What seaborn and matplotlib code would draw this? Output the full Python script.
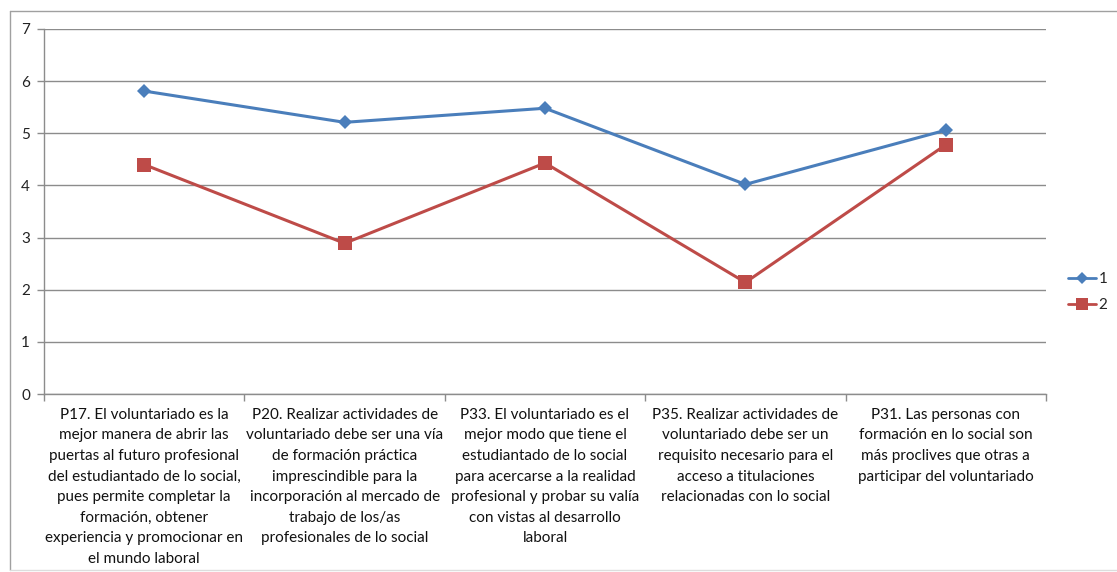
import matplotlib
matplotlib.use("Agg")
import matplotlib.pyplot as plt
from matplotlib.lines import Line2D
import seaborn as sns
import pandas as pd

categories = [
    "P17. El voluntariado es la\nmejor manera de abrir las\npuertas al futuro profesional\ndel estudiantado de lo social,\npues permite completar la\nformación, obtener\nexperiencia y promocionar en\nel mundo laboral",
    "P20. Realizar actividades de\nvoluntariado debe ser una vía\nde formación práctica\nimprescindible para la\nincorporación al mercado de\ntrabajo de los/as\nprofesionales de lo social",
    "P33. El voluntariado es el\nmejor modo que tiene el\nestudiantado de lo social\npara acercarse a la realidad\nprofesional y probar su valía\ncon vistas al desarrollo\nlaboral",
    "P35. Realizar actividades de\nvoluntariado debe ser un\nrequisito necesario para el\nacceso a titulaciones\nrelacionadas con lo social",
    "P31. Las personas con\nformación en lo social son\nmás proclives que otras a\nparticipar del voluntariado",
]
series_1 = [5.81, 5.21, 5.48, 4.02, 5.06]
series_2 = [4.40, 2.89, 4.43, 2.14, 4.78]
series_names = ["1", "2"]
y_ticks = [0, 1, 2, 3, 4, 5, 6, 7]

blue = "#4A7EBB"
red = "#BE4B48"
grid_gray = "#8C8C8C"

df = pd.DataFrame({
    "pos": list(range(len(categories))) * 2,
    "valor": series_1 + series_2,
    "serie": [series_names[0]] * len(categories) + [series_names[1]] * len(categories),
})

sns.set_theme(style="white")
plt.rcParams["font.family"] = ["Lato", "DejaVu Sans"]

fig = plt.figure(figsize=(11.17, 5.72), dpi=100)
ax = fig.add_axes([44 / 1117, 1 - 394 / 572, 1002 / 1117, 365 / 572])

sns.lineplot(
    data=df, x="pos", y="valor", hue="serie", style="serie",
    palette=[blue, red], markers=["D", "s"], dashes=False,
    markersize=8, markeredgewidth=0, linewidth=2.2, ax=ax, legend=False,
)
ax.lines[0].set_markersize(7)
ax.lines[1].set_markersize(9.5)

ax.set_xlim(-0.5, len(categories) - 0.5)
ax.set_ylim(0, 7)
ax.set_yticks(y_ticks)
ax.set_yticklabels([str(v) for v in y_ticks], fontsize=11, color="#222222")
ax.yaxis.grid(True, color=grid_gray, linewidth=1.0)
ax.set_axisbelow(True)

ax.set_xticks(range(len(categories)))
ax.set_xticklabels(categories, fontsize=11, color="#111111", linespacing=1.6, va="top")
ax.set_xticks([i - 0.5 for i in range(len(categories) + 1)], minor=True)
ax.tick_params(axis="x", which="major", length=0, pad=10)
ax.tick_params(axis="x", which="minor", length=5, color=grid_gray, width=1, direction="out", bottom=True)
ax.tick_params(axis="y", which="major", length=5, color=grid_gray, width=1, direction="out", left=True, pad=5)

ax.set_xlabel("")
ax.set_ylabel("")
for side in ["top", "right"]:
    ax.spines[side].set_visible(False)
ax.spines["left"].set_color(grid_gray)
ax.spines["bottom"].set_color(grid_gray)
ax.spines["left"].set_linewidth(1.0)
ax.spines["bottom"].set_linewidth(1.0)

handles = [
    Line2D([], [], color=blue, marker="D", markersize=6, markeredgewidth=0, linewidth=2, label=series_names[0]),
    Line2D([], [], color=red, marker="s", markersize=8, markeredgewidth=0, linewidth=2, label=series_names[1]),
]
fig.legend(handles=handles, loc="center left", bbox_to_anchor=(1068 / 1117, 1 - 292 / 572),
           frameon=False, fontsize=11, handlelength=1.8, handletextpad=0.2, labelspacing=0.8,
           borderpad=0, borderaxespad=0)

# chart frame
frame_color = "#A0A0A0"
fig.add_artist(Line2D([10 / 1117, 1.0], [1 - 11 / 572, 1 - 11 / 572], color=frame_color, linewidth=1, transform=fig.transFigure))
fig.add_artist(Line2D([10 / 1117, 10 / 1117], [1 - 11 / 572, 1 - 570 / 572], color=frame_color, linewidth=1, transform=fig.transFigure))
fig.add_artist(Line2D([10 / 1117, 1.0], [1 - 570 / 572, 1 - 570 / 572], color="#DDDDDD", linewidth=1, transform=fig.transFigure))

fig.savefig("out.png", dpi=100)
